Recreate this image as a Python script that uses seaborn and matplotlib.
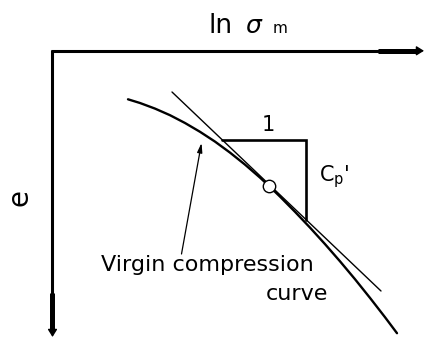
import matplotlib
matplotlib.use("Agg")
import matplotlib.pyplot as plt
import seaborn as sns

# Schematic e – ln(sigma_m) diagram, drawn in a canvas-unit frame (e grows downward)
curve_x = [128, 140, 155, 170, 185, 200, 215, 230, 245, 260, 269,
           280, 295, 310, 325, 340, 355, 370, 385, 397]
curve_e = [99.3, 103.0, 108.6, 115.2, 123.0, 131.8, 141.6, 152.6, 164.6, 177.6, 186.0,
           196.6, 211.8, 227.6, 244.1, 261.3, 279.2, 297.9, 317.2, 333.2]

tangent_x = [172, 381]
tangent_e = [92, 291]

point_x = [269]
point_e = [186]

# slope triangle: run of 1, rise of Cp'
tri_x = [222, 306, 306]
tri_e = [139.5, 139.5, 220]

sns.set_style("white")
plt.rcParams["font.family"] = ["DejaVu Sans"]
plt.rcParams["mathtext.fontset"] = "dejavusans"
plt.rcParams["text.color"] = "black"

fig = plt.figure(figsize=(4.25, 3.38), dpi=100)
ax = fig.add_axes([0, 0, 1, 1])
ax.set_xlim(0, 425)
ax.set_ylim(338, 0)
ax.axis("off")

# axes of the diagram: ln(sigma_m) to the right, e downward
ax.plot([51, 379], [50.8, 50.8], color="black", lw=2.2, solid_capstyle="butt")
ax.plot([378, 418], [50.8, 50.8], color="black", lw=3.6, solid_capstyle="butt")
ax.annotate("", xy=(424, 50.8), xytext=(416, 50.8),
            arrowprops=dict(arrowstyle="-|>,head_length=0.45,head_width=0.28",
                            color="black", lw=1, shrinkA=0, shrinkB=0, mutation_scale=10))
ax.plot([52.5, 52.5], [49.7, 294], color="black", lw=2.2, solid_capstyle="butt")
ax.plot([52.5, 52.5], [293, 331], color="black", lw=3.6, solid_capstyle="butt")
ax.annotate("", xy=(52.5, 337), xytext=(52.5, 329),
            arrowprops=dict(arrowstyle="-|>,head_length=0.45,head_width=0.28",
                            color="black", lw=1, shrinkA=0, shrinkB=0, mutation_scale=10))

# virgin compression curve and its tangent
sns.lineplot(x=curve_x, y=curve_e, sort=False, color="black", lw=1.7, ax=ax,
             estimator=None)
sns.lineplot(x=tangent_x, y=tangent_e, sort=False, color="black", lw=1.0, ax=ax,
             estimator=None)
ax.plot(tri_x, tri_e, color="black", lw=1.9, solid_joinstyle="miter")
sns.scatterplot(x=point_x, y=point_e, s=80, color="white", edgecolor="black",
                linewidth=1.0, ax=ax, zorder=5)

# labels
ax.text(209, 33.3, "ln", fontsize=19, ha="left", va="baseline")
ax.text(245, 33.3, "σ", fontsize=18, style="italic", ha="left", va="baseline")
ax.text(273, 33.3, "m", fontsize=11, ha="left", va="baseline")
ax.text(20, 197, "e", fontsize=20, rotation=90, ha="center", va="center")
ax.text(268, 131, "1", fontsize=15, ha="center", va="baseline")
ax.text(319, 181.5, r"C$_\mathrm{p}$'", fontsize=15, ha="left", va="baseline")
ax.text(101, 271, "Virgin compression", fontsize=16, ha="left", va="baseline")
ax.text(266, 300, "curve", fontsize=16, ha="left", va="baseline")
ax.annotate("", xy=(201.5, 143), xytext=(181.5, 254),
            arrowprops=dict(arrowstyle="-|>,head_length=0.55,head_width=0.15",
                            color="black", lw=0.9, shrinkA=0, shrinkB=0))

fig.savefig("out.png", dpi=100)
